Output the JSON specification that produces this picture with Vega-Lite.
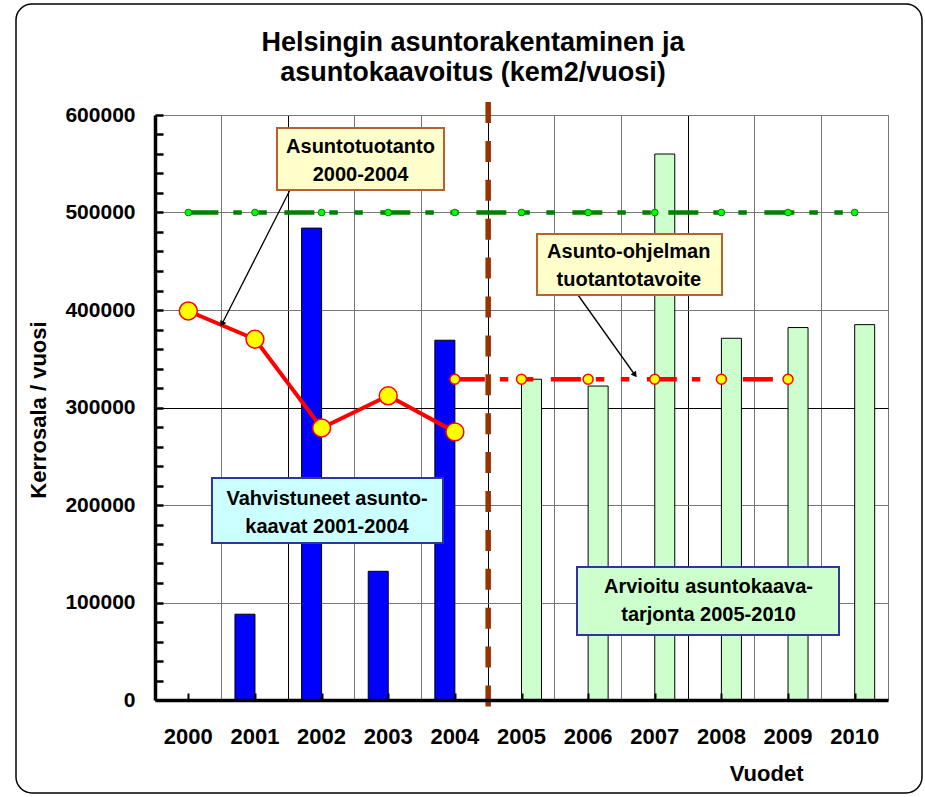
{
  "$schema": "https://vega.github.io/schema/vega-lite/v6.json",
  "width": 733,
  "height": 585,
  "autosize": {"type": "none"},
  "padding": {"left": 155, "top": 115, "right": 37, "bottom": 97},
  "background": "white",
  "config": {
    "font": "Liberation Sans",
    "view": {"stroke": "#777777", "strokeWidth": 1},
    "axis": {"labelFont": "Liberation Sans", "labelFontWeight": "bold", "labelColor": "black", "titleFont": "Liberation Sans", "titleFontWeight": "bold", "titleColor": "black"}
  },
  "title": {
    "text": ["Helsingin asuntorakentaminen ja", "asuntokaavoitus (kem2/vuosi)"],
    "fontSize": 27, "fontWeight": "bold", "lineHeight": 30, "anchor": "middle", "dx": -48.5, "dy": 84, "offset": 0, "color": "black", "font": "Liberation Sans"
  },
  "datasets": {
    "bars": [
      {"year": "2001", "series": "Vahvistuneet", "value": 88000},
      {"year": "2002", "series": "Vahvistuneet", "value": 484000},
      {"year": "2003", "series": "Vahvistuneet", "value": 132000},
      {"year": "2004", "series": "Vahvistuneet", "value": 369000},
      {"year": "2005", "series": "Arvioitu", "value": 329000},
      {"year": "2006", "series": "Arvioitu", "value": 322000},
      {"year": "2007", "series": "Arvioitu", "value": 560000},
      {"year": "2008", "series": "Arvioitu", "value": 371000},
      {"year": "2009", "series": "Arvioitu", "value": 382000},
      {"year": "2010", "series": "Arvioitu", "value": 385000}
    ],
    "production": [
      {"year": "2000", "value": 399000},
      {"year": "2001", "value": 370000},
      {"year": "2002", "value": 279000},
      {"year": "2003", "value": 312000},
      {"year": "2004", "value": 275000}
    ],
    "estimate": [
      {"year": "2004", "value": 329000},
      {"year": "2005", "value": 329000},
      {"year": "2006", "value": 329000},
      {"year": "2007", "value": 329000},
      {"year": "2008", "value": 329000},
      {"year": "2009", "value": 329000}
    ],
    "target": [
      {"year": "2000", "value": 500000},
      {"year": "2001", "value": 500000},
      {"year": "2002", "value": 500000},
      {"year": "2003", "value": 500000},
      {"year": "2004", "value": 500000},
      {"year": "2005", "value": 500000},
      {"year": "2006", "value": 500000},
      {"year": "2007", "value": 500000},
      {"year": "2008", "value": 500000},
      {"year": "2009", "value": 500000},
      {"year": "2010", "value": 500000}
    ],
    "notes": [
      {"id": "b1", "x": 2001.331, "x2": 2003.837, "y": 586667, "y2": 523077, "tx": 2002.584, "ty": 552820, "text": "Asuntotuotanto\n2000-2004"},
      {"id": "b2", "x": 2005.233, "x2": 2008.009, "y": 477949, "y2": 415385, "tx": 2006.61, "ty": 445333, "text": "Asunto-ohjelman\ntuotantotavoite"},
      {"id": "b3", "x": 2000.355, "x2": 2003.822, "y": 227692, "y2": 161026, "tx": 2002.081, "ty": 191795, "text": "Vahvistuneet asunto-\nkaavat 2001-2004"},
      {"id": "b4", "x": 2005.833, "x2": 2009.765, "y": 136410, "y2": 66667, "tx": 2007.806, "ty": 101744, "text": "Arvioitu asuntokaava-\ntarjonta 2005-2010"}
    ],
    "arrows": [
      {"id": "a1", "x": 2001.526, "y": 523077, "x2": 2000.505, "y2": 385641},
      {"id": "a2", "x": 2005.848, "y": 415385, "x2": 2006.703, "y2": 333333}
    ],
    "divider": [
      {"x": 2004.5, "y": 613333, "y2": -7200}
    ],
    "frame": [
      {"x": 1997.414, "x2": 2011.01, "y": 713846, "y2": -95385}
    ]
  },
  "layer": [
    {
      "encoding": {
        "x": {
          "field": "year", "type": "nominal",
          "scale": {"domain": ["2000", "2001", "2002", "2003", "2004", "2005", "2006", "2007", "2008", "2009", "2010"], "paddingInner": 0, "paddingOuter": 0},
          "axis": {
            "orient": "bottom", "title": "Vuodet", "titleFontSize": 22, "titleX": 648, "titleY": 80, "titleAlign": "right", "titleBaseline": "alphabetic",
            "labelFontSize": 22, "labelAngle": 0, "labelPadding": 26, "labelBaseline": "top",
            "bandPosition": 0, "ticks": false, "domain": false, "grid": true, "gridWidth": 1, "zindex": 0,
            "gridColor": {"condition": {"test": "datum.value === '2002' || datum.value === '2005' || datum.value === '2008'", "value": "black"}, "value": "#777777"}
          }
        },
        "y": {
          "field": "value", "type": "quantitative",
          "scale": {"domain": [0, 600000], "nice": false},
          "axis": {
            "orient": "left", "title": "Kerrosala / vuosi", "titleFontSize": 22, "titleAngle": 270, "titleX": -110, "titleY": 294.5, "titleAlign": "center", "titleBaseline": "alphabetic",
            "values": [0, 20000, 40000, 60000, 80000, 100000, 120000, 140000, 160000, 180000, 200000, 220000, 240000, 260000, 280000, 300000, 320000, 340000, 360000, 380000, 400000, 420000, 440000, 460000, 480000, 500000, 520000, 540000, 560000, 580000, 600000],
            "format": "d", "labelExpr": "datum.value % 100000 === 0 ? datum.label : ''", "labelOverlap": false,
            "labelFontSize": 21, "labelPadding": 28, "tickSize": -8, "tickWidth": 2.5, "tickColor": "black",
            "domainColor": "black", "domainWidth": 3.5,
            "grid": true, "gridWidth": 1,
            "gridColor": {"condition": {"test": "datum.value === 300000", "value": "black"}, "value": "#777777"},
            "gridOpacity": {"condition": {"test": "datum.value % 100000 !== 0", "value": 0}, "value": 1}
          }
        }
      },
      "layer": [
        {
          "data": {"name": "bars"},
          "mark": {"type": "bar", "stroke": "black", "strokeWidth": 1},
          "encoding": {
            "xOffset": {"field": "series", "type": "nominal", "scale": {"domain": ["Vahvistuneet", "Arvioitu"], "paddingInner": 0, "paddingOuter": 0.666}},
            "color": {"field": "series", "type": "nominal", "scale": {"domain": ["Vahvistuneet", "Arvioitu"], "range": ["#0000FF", "#CCFFCC"]}, "legend": null}
          }
        },
        {
          "data": {"name": "target"},
          "mark": {"type": "line", "color": "#008000", "strokeWidth": 4.5, "strokeDash": [30, 15, 8.5, 16.5, 8.5, 17.5]}
        },
        {
          "data": {"name": "target"},
          "mark": {"type": "point", "shape": "circle", "filled": true, "fill": "#00FF00", "stroke": "#008000", "strokeWidth": 1, "size": 45, "opacity": 1}
        },
        {
          "data": {"name": "production"},
          "mark": {"type": "line", "color": "#FF0000", "strokeWidth": 4}
        },
        {
          "data": {"name": "production"},
          "mark": {"type": "point", "shape": "circle", "filled": true, "fill": "#FFFF00", "stroke": "#FF0000", "strokeWidth": 1.5, "size": 320, "opacity": 1}
        },
        {
          "data": {"name": "estimate"},
          "mark": {"type": "line", "color": "#FF0000", "strokeWidth": 4.5, "strokeDash": [30, 15, 8.5, 16.5, 8.5, 17.5]}
        },
        {
          "data": {"name": "estimate"},
          "mark": {"type": "point", "shape": "circle", "filled": true, "fill": "#FFFF00", "stroke": "#FF0000", "strokeWidth": 1.5, "size": 100, "opacity": 1}
        }
      ]
    },
    {
      "layer": [
        {
          "data": {"name": "divider"},
          "mark": {"type": "rule", "color": "#993300", "strokeWidth": 5.5, "strokeDash": [21, 17.9]},
          "encoding": {
            "x": {
              "field": "x", "type": "quantitative",
              "scale": {"domain": [1999.5, 2010.5], "nice": false, "zero": false},
              "axis": {
                "orient": "bottom", "title": null, "labels": false, "grid": false,
                "values": [2000, 2000.5, 2001, 2001.5, 2002, 2002.5, 2003, 2003.5, 2004, 2004.5, 2005, 2005.5, 2006, 2006.5, 2007, 2007.5, 2008, 2008.5, 2009, 2009.5, 2010, 2010.5],
                "tickSize": -7, "tickWidth": 2, "tickColor": "black", "domainColor": "black", "domainWidth": 3.5, "zindex": 1
              }
            },
            "y": {"field": "y", "type": "quantitative", "scale": {"domain": [0, 600000], "nice": false}, "axis": {"orient": "right", "title": null, "labels": false, "ticks": false, "domain": false, "grid": false}},
            "y2": {"field": "y2"}
          }
        },
        {
          "data": {"name": "arrows"},
          "mark": {"type": "rule", "color": "black", "strokeWidth": 1.3},
          "encoding": {
            "x": {"field": "x", "type": "quantitative", "axis": {"orient": "bottom", "title": null, "labels": false, "grid": false}},
            "x2": {"field": "x2"},
            "y": {"field": "y", "type": "quantitative", "axis": {"orient": "right", "title": null, "labels": false, "ticks": false, "domain": false, "grid": false}},
            "y2": {"field": "y2"}
          }
        },
        {
          "data": {"name": "arrows"},
          "transform": [{"filter": "datum.id === 'a1'"}],
          "mark": {"type": "point", "shape": "triangle-up", "filled": true, "color": "black", "size": 45, "angle": 207, "opacity": 1},
          "encoding": {
            "x": {"field": "x2", "type": "quantitative", "axis": {"orient": "bottom", "title": null, "labels": false, "grid": false}},
            "y": {"field": "y2", "type": "quantitative", "axis": {"orient": "right", "title": null, "labels": false, "ticks": false, "domain": false, "grid": false}}
          }
        },
        {
          "data": {"name": "arrows"},
          "transform": [{"filter": "datum.id === 'a2'"}],
          "mark": {"type": "point", "shape": "triangle-up", "filled": true, "color": "black", "size": 45, "angle": 144.5, "opacity": 1},
          "encoding": {
            "x": {"field": "x2", "type": "quantitative", "axis": {"orient": "bottom", "title": null, "labels": false, "grid": false}},
            "y": {"field": "y2", "type": "quantitative", "axis": {"orient": "right", "title": null, "labels": false, "ticks": false, "domain": false, "grid": false}}
          }
        },
        {
          "data": {"name": "notes"},
          "mark": {"type": "rect", "strokeWidth": 2},
          "encoding": {
            "x": {"field": "x", "type": "quantitative", "axis": {"orient": "bottom", "title": null, "labels": false, "grid": false}},
            "x2": {"field": "x2"},
            "y": {"field": "y", "type": "quantitative", "axis": {"orient": "right", "title": null, "labels": false, "ticks": false, "domain": false, "grid": false}},
            "y2": {"field": "y2"},
            "fill": {"field": "id", "type": "nominal", "scale": {"domain": ["b1", "b2", "b3", "b4"], "range": ["#FFFFCC", "#FFFFCC", "#CCFFFF", "#CCFFCC"]}, "legend": null},
            "stroke": {"field": "id", "type": "nominal", "scale": {"domain": ["b1", "b2", "b3", "b4"], "range": ["#B8602E", "#B8602E", "#333399", "#333399"]}, "legend": null}
          }
        },
        {
          "data": {"name": "notes"},
          "mark": {"type": "text", "font": "Liberation Sans", "fontSize": 20, "fontWeight": "bold", "color": "black", "lineBreak": "\n", "lineHeight": 28, "align": "center", "baseline": "middle", "dy": -14},
          "encoding": {
            "x": {"field": "tx", "type": "quantitative", "axis": {"orient": "bottom", "title": null, "labels": false, "grid": false}},
            "y": {"field": "ty", "type": "quantitative", "axis": {"orient": "right", "title": null, "labels": false, "ticks": false, "domain": false, "grid": false}},
            "text": {"field": "text"}
          }
        },
        {
          "data": {"name": "frame"},
          "mark": {"type": "rect", "fill": "transparent", "stroke": "black", "strokeWidth": 1.5, "cornerRadius": 16},
          "encoding": {
            "x": {"field": "x", "type": "quantitative", "axis": {"orient": "bottom", "title": null, "labels": false, "grid": false}},
            "x2": {"field": "x2"},
            "y": {"field": "y", "type": "quantitative", "axis": {"orient": "right", "title": null, "labels": false, "ticks": false, "domain": false, "grid": false}},
            "y2": {"field": "y2"}
          }
        }
      ]
    }
  ],
  "resolve": {"scale": {"x": "independent", "y": "independent"}}
}
